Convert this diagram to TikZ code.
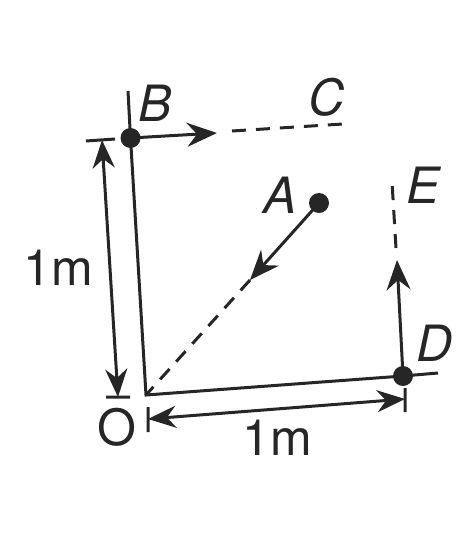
\documentclass[tikz,border=0pt]{standalone}
\usepackage{fontspec}
\setmainfont{TeX Gyre Heros}
\usetikzlibrary{arrows.meta}
\newcommand{\dotd}{10pt}
\newcommand{\lw}{1.5pt}

\begin{document}
\begin{tikzpicture}[x=0.5pt,y=-0.5pt,
        ink/.style={draw=black!85, line width=\lw},
        dashline/.style={ink, dash pattern=on 7pt off 5pt},
        arr/.style={ink, -{Stealth[length=15pt,width=12pt,inset=5pt]}},
        dimarr/.style={ink, {Stealth[length=14pt,width=11pt,inset=4.5pt]}-{Stealth[length=14pt,width=11pt,inset=4.5pt]}},
        pt/.style={circle, fill=black!85, inner sep=0pt, minimum size=\dotd},
        lab/.style={font=\fontsize{25}{29}\selectfont\itshape, text=black!85},
        ulab/.style={font=\fontsize{25}{29}\selectfont, text=black!85}]
                %\draw[help lines] (0,0) grid[step=50] (474,541);
                \useasboundingbox (0,0) rectangle (474,541);
                % points
                \coordinate (O) at (146,395);
                \node[pt] (B) at (130.5,138) {};
                \node[pt] (A) at (319,203) {};
                \node[pt] (D) at (403,376) {};
                \coordinate (Btop) at (128,91);
                \coordinate (Dright) at (438,373);
                \coordinate (Ctip) at (217,133);
                \coordinate (Cs) at (232,131);
                \coordinate (Ce) at (343,124);
                \coordinate (Etip) at (397,260);
                \coordinate (Es) at (396,248);
                \coordinate (Ee) at (392,182);
                \coordinate (Atip) at (250,280);
                % axes
                \draw[ink] (Btop) -- (B.center) -- (O) -- (D.center) -- (Dright);
                % paths
                \draw[arr] (B.center) -- (Ctip);
                \draw[dashline] (Cs) -- (Ce);
                \draw[arr] (D.center) -- (Etip);
                \draw[dashline] (Es) -- (Ee);
                \draw[arr] (A.center) -- (Atip);
                \draw[dashline] (Atip) -- (O);
                % dimensions
                \coordinate (t1) at (86,141);
                \coordinate (t2) at (115,139);
                \coordinate (t3) at (106,397);
                \coordinate (t4) at (130,397);
                \coordinate (t5) at (148,407);
                \coordinate (t6) at (148,432);
                \coordinate (t7) at (405,388);
                \coordinate (t8) at (405,412);
                \draw[ink] (t1) -- (t2) (t3) -- (t4) (t5) -- (t6) (t7) -- (t8);
                \coordinate (v1) at (102,140);
                \coordinate (v2) at (118,397);
                \coordinate (h1) at (148,419);
                \coordinate (h2) at (405,399);
                \draw[dimarr] (v1) -- (v2);
                \draw[dimarr] (h1) -- (h2);
                % labels
                \node[lab] (labB) at (155,103) {B};
                \node[lab] (labC) at (327,97) {C};
                \node[lab] (labA) at (280,195) {A};
                \node[lab] (labE) at (423,185) {E};
                \node[lab] (labD) at (435,343) {D};
                \node[ulab] (labO) at (117,427) {O};
                \node[ulab] (len1) at (58,268) {1m};
                \node[ulab] (len2) at (277,438) {1m};
        \end{tikzpicture}
\end{document}
